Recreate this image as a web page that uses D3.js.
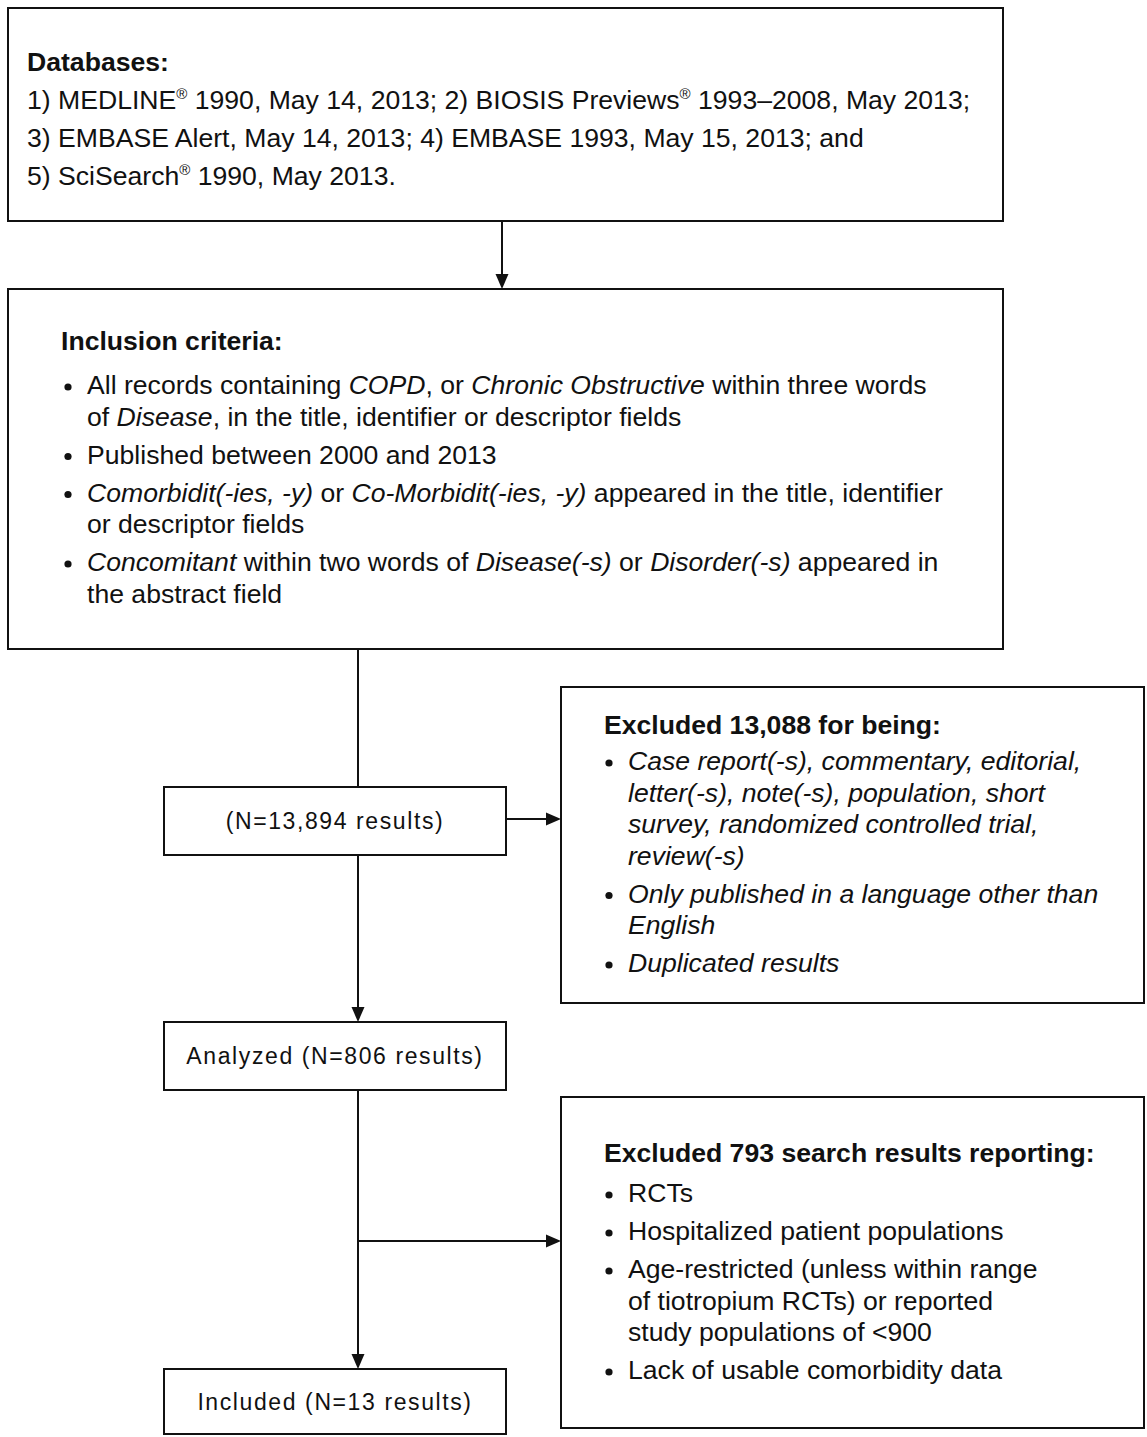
<!DOCTYPE html>
<html>
<head>
<meta charset="utf-8">
<script src="https://cdn.jsdelivr.net/npm/d3@7"></script>
<style>
  body { margin: 0; background: #fff; }
  svg { display: block; }
  text { font-family: "Liberation Sans", Arial, Helvetica, sans-serif; fill: #111; }
</style>
</head>
<body>
<div id="chart"></div>
<script>
// flow diagram content. *...* = italic, ^x = superscript char
const databaseHeading = "Databases:";
const databaseLines = [
    "1) MEDLINE^® 1990, May 14, 2013; 2) BIOSIS Previews^® 1993–2008, May 2013;",
    "3) EMBASE Alert, May 14, 2013; 4) EMBASE 1993, May 15, 2013; and",
    "5) SciSearch^® 1990, May 2013."
];

const inclusionHeading = "Inclusion criteria:";
const inclusionItems = [
    ["All records containing *COPD*, or *Chronic Obstructive* within three words",
     "of *Disease*, in the title, identifier or descriptor fields"],
    ["Published between 2000 and 2013"],
    ["*Comorbidit(-ies, -y)* or *Co-Morbidit(-ies, -y)* appeared in the title, identifier",
     "or descriptor fields"],
    ["*Concomitant* within two words of *Disease(-s)* or *Disorder(-s)* appeared in",
     "the abstract field"]
];

const exclusion1Heading = "Excluded 13,088 for being:";
const exclusion1Items = [
    ["*Case report(-s), commentary, editorial,*",
     "*letter(-s), note(-s), population, short*",
     "*survey, randomized controlled trial,*",
     "*review(-s)*"],
    ["*Only published in a language other than*", "*English*"],
    ["*Duplicated results*"]
];

const exclusion2Heading = "Excluded 793 search results reporting:";
const exclusion2Items = [
    ["RCTs"],
    ["Hospitalized patient populations"],
    ["Age-restricted (unless within range", "of tiotropium RCTs) or reported", "study populations of <900"],
    ["Lack of usable comorbidity data"]
];

const flowLabels = ["(N=13,894 results)", "Analyzed (N=806 results)", "Included (N=13 results)"];

// ---- layout ----
const width = 1147, height = 1437;
const fontSize = 26.6;
const lineGap = 31.5, itemGap = 38;
const flowX = 164, flowW = 342, flowLineX = 358;

const textBoxes = [
    { x: 8, y: 8, w: 995, h: 213, headX: 27, headY: 62, firstY: 100, textX: 27, bullets: false,
      heading: databaseHeading, items: databaseLines.map(l => [l]) },
    { x: 8, y: 289, w: 995, h: 360, headX: 61, headY: 341, firstY: 385, textX: 87, bullets: true,
      heading: inclusionHeading, items: inclusionItems },
    { x: 561, y: 687, w: 583, h: 316, headX: 604, headY: 725, firstY: 761, textX: 628, bullets: true,
      heading: exclusion1Heading, items: exclusion1Items },
    { x: 561, y: 1097, w: 583, h: 331, headX: 604, headY: 1153, firstY: 1193, textX: 628, bullets: true,
      heading: exclusion2Heading, items: exclusion2Items }
];

const flowBoxes = [
    { y: 787, h: 68 },
    { y: 1022, h: 68 },
    { y: 1369, h: 65 }
];

const svg = d3.select("#chart").append("svg")
    .attr("width", width)
    .attr("height", height);

svg.append("rect").attr("width", width).attr("height", height).attr("fill", "#fff");

// split a marked-up string into styled runs
function parseRuns(str) {
    const runs = [];
    const re = /(\*[^*]+\*|\^.)/g;
    let last = 0, m;
    while ((m = re.exec(str)) !== null) {
        if (m.index > last) runs.push({ t: str.slice(last, m.index) });
        if (m[0][0] === "*") runs.push({ t: m[0].slice(1, -1), italic: true });
        else runs.push({ t: m[0].slice(1), sup: true });
        last = re.lastIndex;
    }
    if (last < str.length) runs.push({ t: str.slice(last) });
    return runs;
}

function addLine(g, str, x, cy) {
    const text = g.append("text")
        .attr("x", x)
        .attr("y", cy + 9)
        .style("font-size", fontSize + "px");
    let shifted = false;
    parseRuns(str).forEach(r => {
        const ts = text.append("tspan").text(r.t);
        if (r.italic) ts.style("font-style", "italic");
        if (r.sup) {
            ts.style("font-size", "15px").attr("dy", -10);
            shifted = true;
        } else if (shifted) {
            ts.attr("dy", 10);
            shifted = false;
        }
    });
}

// text boxes
const boxG = svg.selectAll(".tbox")
    .data(textBoxes)
    .enter().append("g")
    .attr("class", "tbox");

boxG.append("rect")
    .attr("x", d => d.x)
    .attr("y", d => d.y)
    .attr("width", d => d.w)
    .attr("height", d => d.h)
    .attr("fill", "#fff")
    .attr("stroke", "#111")
    .attr("stroke-width", 2);

boxG.append("text")
    .attr("x", d => d.headX)
    .attr("y", d => d.headY + 9)
    .style("font-size", fontSize + "px")
    .style("font-weight", "bold")
    .text(d => d.heading);

boxG.each(function(d) {
    const g = d3.select(this);
    let y = d.firstY;
    d.items.forEach((lines, i) => {
        if (i > 0) y += itemGap;
        if (d.bullets) {
            g.append("circle")
                .attr("cx", d.textX - 19)
                .attr("cy", y + 2)
                .attr("r", 3.6)
                .attr("fill", "#111");
        }
        lines.forEach((ln, j) => {
            if (j > 0) y += lineGap;
            addLine(g, ln, d.textX, y);
        });
    });
});

// flow boxes
const flowG = svg.selectAll(".fbox")
    .data(flowBoxes)
    .enter().append("g")
    .attr("class", "fbox");

flowG.append("rect")
    .attr("x", flowX)
    .attr("y", d => d.y)
    .attr("width", flowW)
    .attr("height", d => d.h)
    .attr("fill", "#fff")
    .attr("stroke", "#111")
    .attr("stroke-width", 2);

flowG.append("text")
    .attr("x", flowX + flowW / 2)
    .attr("y", d => d.y + d.h / 2 + 8)
    .attr("text-anchor", "middle")
    .style("font-size", "23px")
    .style("letter-spacing", "1.6px")
    .text((d, i) => flowLabels[i]);

// connectors
const connectors = [
    { x1: 502, y1: 221, x2: 502, y2: 289, arrow: true },
    { x1: flowLineX, y1: 649, x2: flowLineX, y2: 787, arrow: false },
    { x1: flowLineX, y1: 855, x2: flowLineX, y2: 1022, arrow: true },
    { x1: flowX + flowW, y1: 819, x2: 561, y2: 819, arrow: true },
    { x1: flowLineX, y1: 1090, x2: flowLineX, y2: 1369, arrow: true },
    { x1: flowLineX, y1: 1241, x2: 561, y2: 1241, arrow: true }
];

const headLen = 15, headHalf = 6.5;

svg.selectAll(".conn")
    .data(connectors)
    .enter().append("line")
    .attr("class", "conn")
    .attr("x1", d => d.x1)
    .attr("y1", d => d.y1)
    .attr("x2", d => d.arrow ? d.x2 - Math.sign(d.x2 - d.x1) * 4 : d.x2)
    .attr("y2", d => d.arrow ? d.y2 - Math.sign(d.y2 - d.y1) * 4 : d.y2)
    .attr("stroke", "#111")
    .attr("stroke-width", 2);

svg.selectAll(".head")
    .data(connectors.filter(d => d.arrow))
    .enter().append("path")
    .attr("class", "head")
    .attr("fill", "#111")
    .attr("d", d => {
        if (d.x1 === d.x2) {
            const tip = d.y2;
            return `M${d.x2},${tip} L${d.x2 - headHalf},${tip - headLen} L${d.x2 + headHalf},${tip - headLen} Z`;
        }
        const tip = d.x2;
        return `M${tip},${d.y2} L${tip - headLen},${d.y2 - headHalf} L${tip - headLen},${d.y2 + headHalf} Z`;
    });
</script>
</body>
</html>
